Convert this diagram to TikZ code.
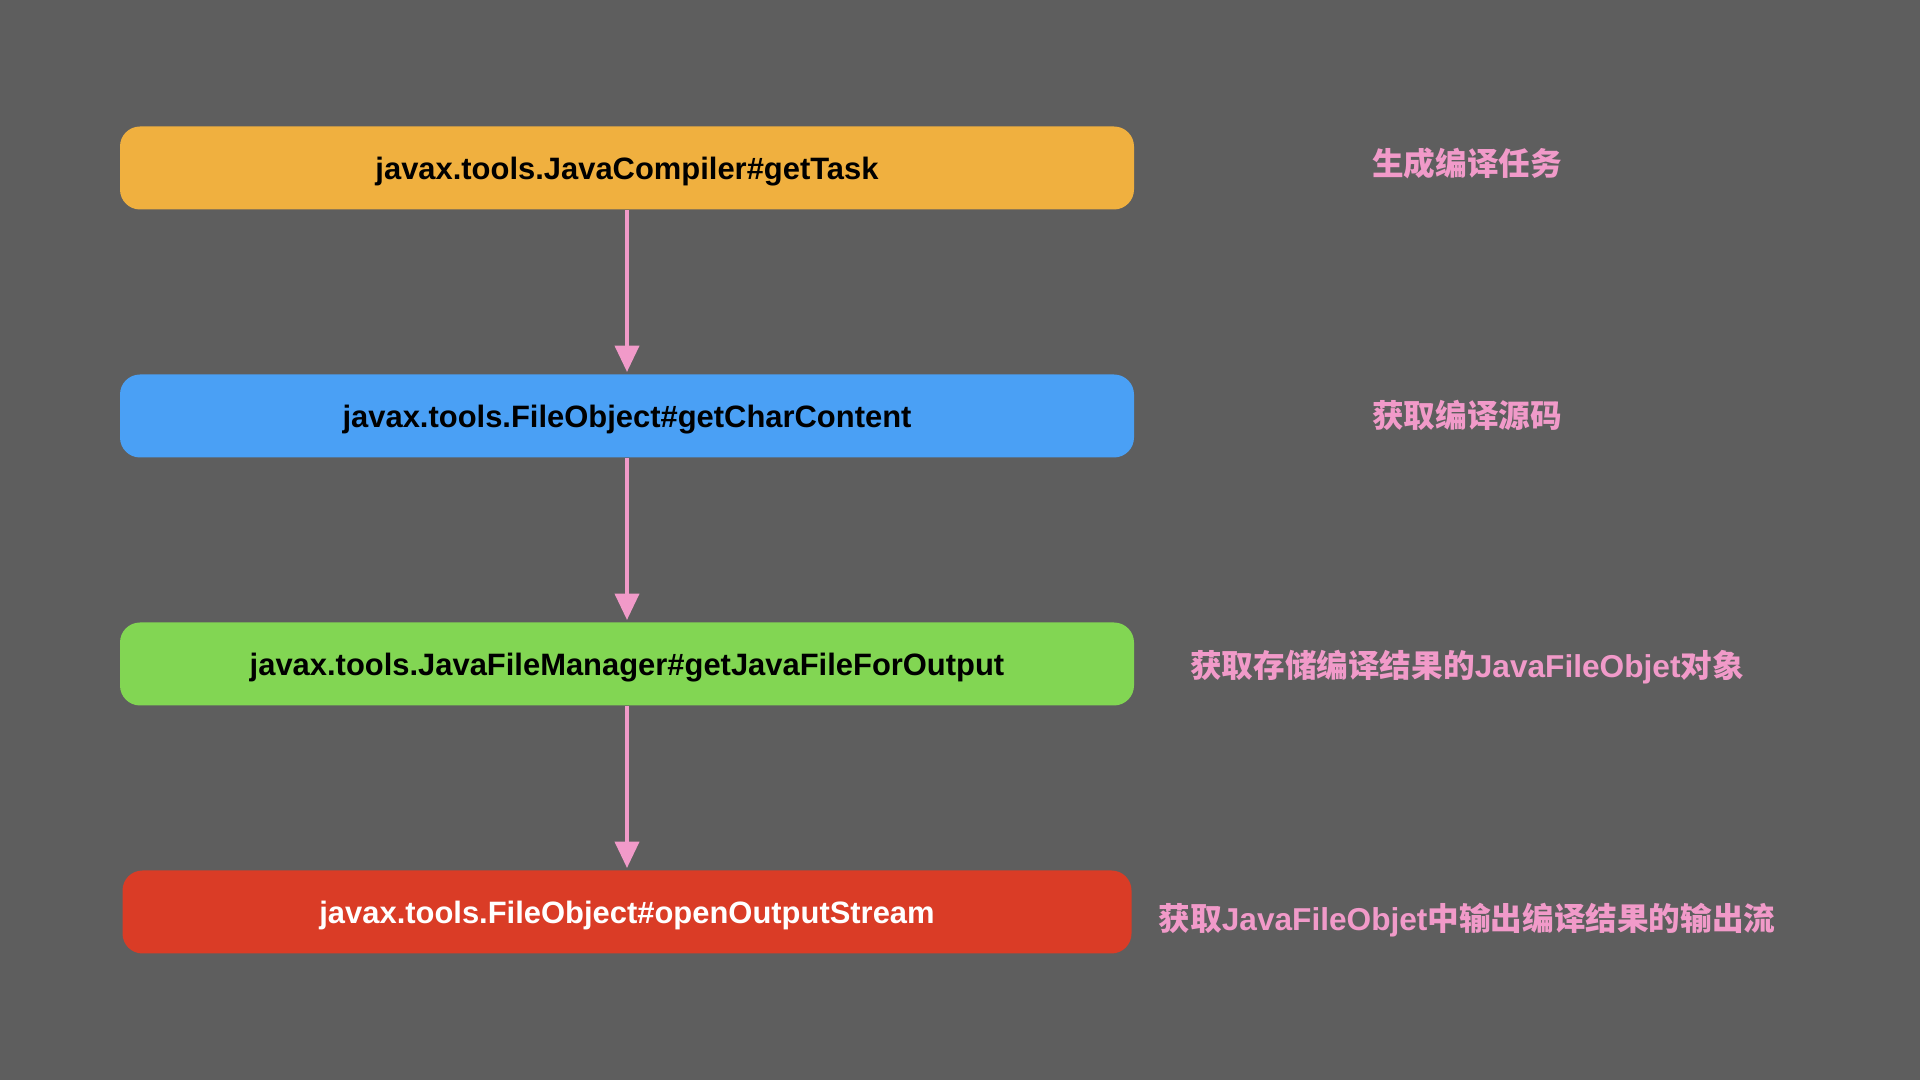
\documentclass[tikz,border=0pt]{standalone}
\usepackage{fontspec}
\setmainfont{Liberation Sans}
\newfontfamily\cjk{Noto Sans CJK SC}
\usepackage{xcolor}
\usepackage{tikz}
\usetikzlibrary{arrows.meta,positioning}
\definecolor{canvas}{HTML}{5E5E5E}
\definecolor{orange}{HTML}{F0B03F}
\definecolor{sky}{HTML}{4AA0F5}
\definecolor{leaf}{HTML}{82D653}
\definecolor{brick}{HTML}{DA3C26}
\definecolor{pink}{HTML}{F19AC9}
\tikzset{
  >={Triangle[length=7.5pt,width=6.8pt]},
  stage/.style={rounded corners=2mm,minimum width=10.14cm,minimum height=.83cm,inner sep=0pt,
    text height=6.4pt,text depth=0pt,font=\fontsize{8.8}{10}\selectfont\bfseries},
  note/.style={text=pink,font=\cjk\fontsize{9}{11}\selectfont\bfseries},
  flow/.style={->,line width=1.15pt,color=pink,shorten >=.5pt},
}
\begin{document}
\begin{tikzpicture}
  \fill[canvas] (0,0) rectangle (19.2,10.8);
  \useasboundingbox (0,0) rectangle (19.2,10.8);
  % call chain
  \node[stage,fill=orange] (task) at (6.27,9.12) {javax.tools.JavaCompiler\#getTask};
  \node[stage,fill=sky] (source) at (6.27,6.64) {javax.tools.FileObject\#getCharContent};
  \node[stage,fill=leaf] (output) at (6.27,4.16) {javax.tools.JavaFileManager\#getJavaFileForOutput};
  \node[stage,fill=brick,text=white,minimum width=10.09cm] (stream) at (6.27,1.68) {javax.tools.FileObject\#openOutputStream};
  \draw[flow] (task) -- (source);
  \draw[flow] (source) -- (output);
  \draw[flow] (output) -- (stream);
  % notes
  \node[note] (tasknote) at (14.67,9.17) {生成编译任务};
  \node[note] (sourcenote) at (14.67,6.65) {获取编译源码};
  \node[note] (outputnote) at (14.67,4.13) {获取存储编译结果的{\fontspec{Liberation Sans}JavaFileObjet}对象};
  \node[note] (streamnote) at (14.67,1.60) {获取{\fontspec{Liberation Sans}JavaFileObjet}中输出编译结果的输出流};
\end{tikzpicture}
\end{document}
